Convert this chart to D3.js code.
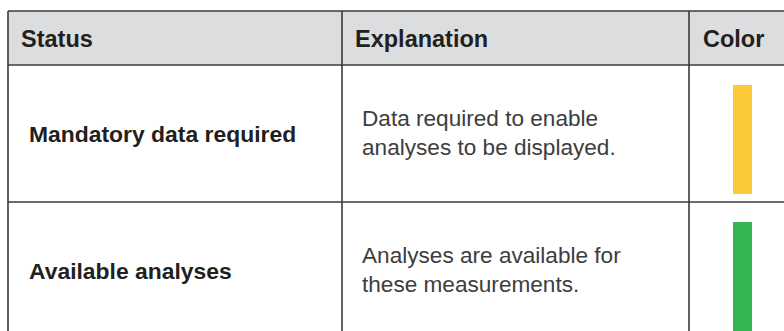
<!DOCTYPE html>
<html><head><meta charset="utf-8">
<script src="https://cdn.jsdelivr.net/npm/d3@7"></script>
<style>
html,body{margin:0;padding:0;background:#fff;overflow:hidden;}
svg{display:block;}
</style></head>
<body>
<script>
// ---- data ----
const headers = ["Status", "Explanation", "Color"];
const statuses = ["Mandatory data required", "Available analyses"];
const explanations = [
  ["Data required to enable", "analyses to be displayed."],
  ["Analyses are available for", "these measurements."]
];
const statusColors = ["#fcc93b", "#34b553"];

// ---- layout ----
const W = 784, H = 331;
const colEdges = [8, 342, 689, 790];
const headerTop = 11, headerH = 54, rowH = 137;
const border = "#3a3a3a";
const font = "'Liberation Sans', Arial, Helvetica, sans-serif";

const svg = d3.select("body").append("svg").attr("width", W).attr("height", H);

const x = d3.scaleOrdinal().domain(d3.range(headers.length)).range(colEdges.slice(0, 3));
const rowsY = d3.scaleLinear().domain([0, 1]).range([headerTop + headerH, headerTop + headerH + rowH]);

// header background
svg.append("rect").attr("x", colEdges[0]).attr("y", headerTop)
  .attr("width", colEdges[3] - colEdges[0]).attr("height", headerH)
  .attr("fill", "#dcdddf");

// header text
const headerOffsets = [13, 13, 14];
svg.selectAll("text.hdr").data(headers).join("text")
  .attr("class", "hdr")
  .attr("x", (d, i) => x(i) + headerOffsets[i])
  .attr("y", headerTop + 36)
  .attr("font-family", font).attr("font-weight", "bold").attr("font-size", 23.5)
  .attr("fill", "#231f20")
  .text(d => d);

// status text
svg.selectAll("text.status").data(statuses).join("text")
  .attr("class", "status")
  .attr("x", x(0) + 21)
  .attr("y", (d, i) => rowsY(i) + rowH / 2 + 8)
  .attr("font-family", font).attr("font-weight", "bold").attr("font-size", 22.9)
  .attr("fill", "#231f20")
  .text(d => d);

// explanation text
const expl = svg.selectAll("g.expl").data(explanations).join("g").attr("class", "expl");
expl.selectAll("text").data((d, i) => d.map((t, j) => ({t, i, j}))).join("text")
  .attr("x", x(1) + 20)
  .attr("y", d => rowsY(d.i) + rowH / 2 - 8 + d.j * 29)
  .attr("font-family", font).attr("font-size", 22.6)
  .attr("fill", "#3d3d3d")
  .text(d => d.t);

// color bars
svg.selectAll("rect.bar").data(statusColors).join("rect")
  .attr("class", "bar")
  .attr("x", x(2) + 44)
  .attr("y", (d, i) => rowsY(i) + 20)
  .attr("width", 19)
  .attr("height", rowH - 28)
  .attr("fill", d => d);

// grid lines
const g = svg.append("g").attr("stroke", border).attr("stroke-width", 1.6).attr("fill", "none");
g.append("line").attr("x1", colEdges[0]).attr("x2", W + 5).attr("y1", headerTop).attr("y2", headerTop);
[0, 1].forEach(i => {
  g.append("line").attr("x1", colEdges[0]).attr("x2", W + 5).attr("y1", rowsY(i)).attr("y2", rowsY(i));
});
[0, 1, 2].forEach(i => {
  g.append("line").attr("x1", colEdges[i]).attr("x2", colEdges[i]).attr("y1", headerTop).attr("y2", H + 5);
});
</script>
</body></html>
